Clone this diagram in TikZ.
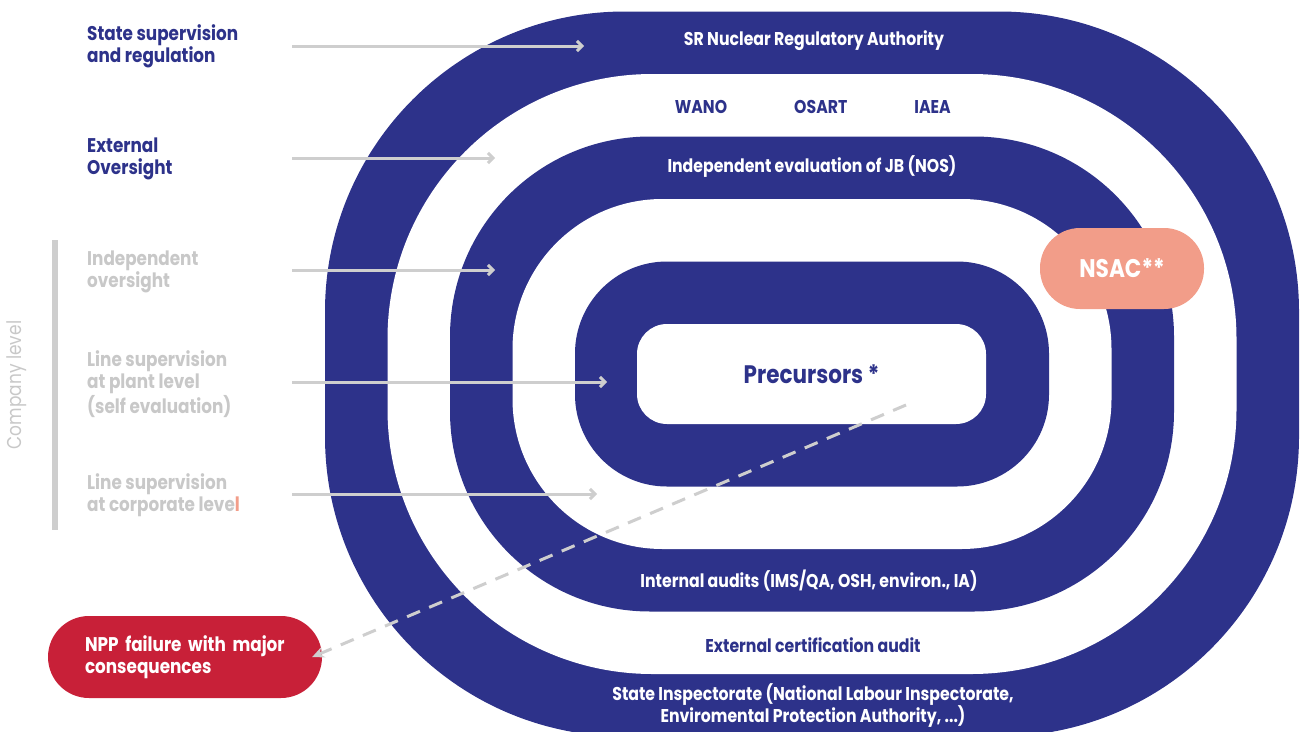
\documentclass[tikz,border=0pt]{standalone}
\usepackage{fontspec}
\setmainfont{Poppins}[FakeStretch=0.85]
\usetikzlibrary{positioning, arrows.meta}

\definecolor{navy}{RGB}{45,50,138}
\definecolor{lightgrey}{RGB}{206,206,206}
\definecolor{labelgrey}{RGB}{200,200,200}
\definecolor{salmon}{RGB}{242,157,137}
\definecolor{alertred}{RGB}{200,32,56}

\tikzset{
  ringtext/.style={text=white, font=\fontsize{18.5}{22}\selectfont\bfseries, align=center},
  sidelabel/.style={anchor=west, align=left, inner sep=0pt, font=\fontsize{19.8}{22}\selectfont\bfseries},
  pointer/.style={draw=lightgrey, line width=3pt, -{Straight Barb[length=5pt,width=10pt]}},
}

\begin{document}
\begin{tikzpicture}[x=1pt, y=-1pt, node distance=60pt]
\useasboundingbox (0,0) rectangle (1301,731);
\clip (0,0) rectangle (1301,731);

% rings, outside in
\foreach \k/\rr/\col in {5/300/navy,4/265/white,3/200/navy,2/150/white,1/92/navy} {
  \pgfmathsetmacro{\hw}{174.5+62.5*\k}
  \pgfmathsetmacro{\hh}{50+62.5*\k}
  \fill[\col, rounded corners=\rr] ({812-\hw},{374-\hh}) rectangle ({812+\hw},{374+\hh});
}

\node[fill=white, rounded corners=30, minimum width=349, minimum height=100, text=navy,
  font=\fontsize{25.3}{28}\selectfont\bfseries] (prec) at (811.5,374) {Precursors *};

% ring labels
\node[ringtext] (nra) at (814,41) {SR Nuclear Regulatory Authority};
\node[ringtext, text=navy] (wano) at (701,107) {WANO};
\node[ringtext, text=navy, right=of wano] (osart) {OSART};
\node[ringtext, text=navy, right=of osart] (iaea) {IAEA};
\node[ringtext] (nos) at (812,167) {Independent evaluation of JB (NOS)};
\node[ringtext] (audits) at (809,581) {Internal audits (IMS/QA, OSH, environ., IA)};
\node[ringtext, text=navy] (cert) at (813,645) {External certification audit};
\node[ringtext] (inspect) at (813,705) {State Inspectorate (National Labour Inspectorate,\\Enviromental Protection Authority, ...)};

\node[fill=salmon, text=white, rounded corners=40, minimum width=164, minimum height=81,
  font=\fontsize{25.5}{28}\selectfont\bfseries] (nsac) at (1122,268.5) {NSAC**};

\node[fill=alertred, text=white, rounded corners=41, minimum width=274, minimum height=82,
  text width=200pt, align=left, font=\fontsize{19.8}{22}\selectfont\bfseries] (npp) at (185,657)
  {NPP failure with major\\consequences};

% left side
\node[sidelabel, text=navy] (lblState) at (87,46) {State supervision\\and regulation};
\node[sidelabel, text=navy] (lblExt) at (87,159) {External\\Oversight};
\node[sidelabel, text=labelgrey] (lblIndep) at (87,272) {Independent\\oversight};
\node[sidelabel, text=labelgrey] (lblPlant) at (87,384) {Line supervision\\at plant level\\(self evaluation)};
\node[sidelabel, text=labelgrey] (lblCorp) at (87,495) {Line supervision\\at corporate leve\textcolor{salmon}{l}};

\node[rotate=90, text=labelgrey, font=\fontsize{20}{22}\selectfont] (company) at (17,385) {Company level};
\draw[lightgrey, line width=6pt] (55,240) -- (55,530);

\foreach \n/\y/\x in {1/46/584, 2/158/495, 3/270/495, 4/382/607, 5/494/597} {
  \coordinate (tail\n) at (292,\y);
  \coordinate (head\n) at (\x,\y);
  \draw[pointer] (tail\n) -- (head\n);
}

% dashed path to failure
\coordinate (drift) at (906,405);
\draw[lightgrey, line width=3pt, dash pattern=on 14pt off 10pt, -{Stealth[length=12pt,width=11pt]}]
  (drift) -- ([xshift=-10pt]npp.east);

\end{tikzpicture}
\end{document}
